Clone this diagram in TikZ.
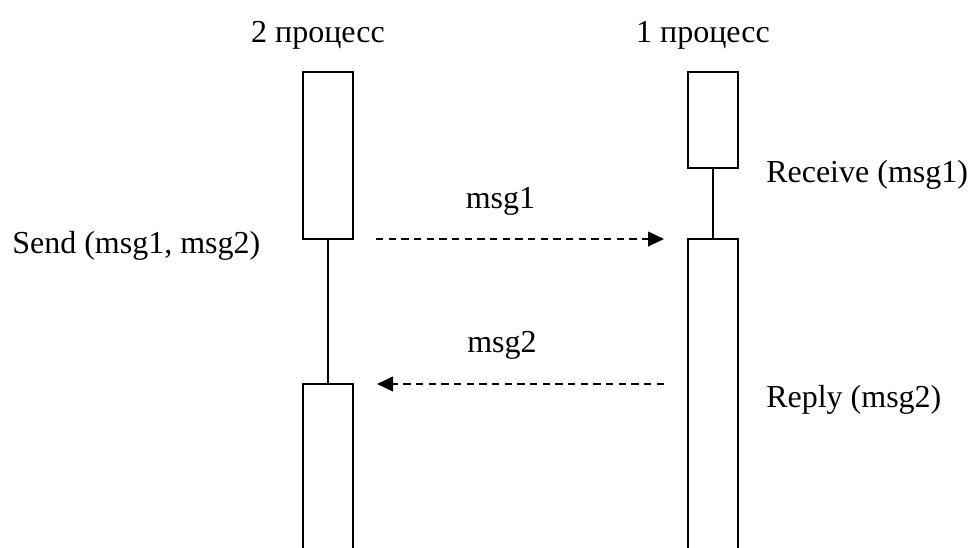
\documentclass[tikz,border=0pt]{standalone}
\usepackage{fontspec}
\setmainfont{Liberation Serif}
\usetikzlibrary{arrows.meta}
\begin{document}
\begin{tikzpicture}[x=0.75pt,y=-0.75pt,
  lane/.style={draw,line width=1.5pt,minimum width=37.5pt,inner sep=0pt,outer sep=0pt},
  lifeline/.style={line width=1.5pt},
  msgarrow/.style={line width=1.5pt,dash pattern=on 5.5pt off 4pt,-{Triangle[length=12pt,width=11pt]}},
  lbl/.style={inner sep=0pt,font=\fontsize{24pt}{28pt}\selectfont}]
\useasboundingbox (0,0) rectangle (970,547);
% activation boxes
\node[lane,minimum height=125.25pt] (A1) at (328,155.5) {};
\node[lane,minimum height=139.5pt] (A2) at (328,477) {};
\node[lane,minimum height=72pt] (B1) at (713,120) {};
\node[lane,minimum height=248.25pt] (B2) at (713,404.5) {};
% lifelines
\draw[lifeline] (A1.south) -- (A2.north);
\draw[lifeline] (B1.south) -- (B2.north);
% messages
\draw[msgarrow,shorten <=17.25pt,shorten >=18pt] (A1.south east) -- (B2.north west);
\draw[msgarrow,shorten <=18pt,shorten >=18pt] (B2.west |- A2.north) -- (A2.north east);
% labels
\node[lbl,anchor=base] (t2) at (318,42) {2 процесс};
\node[lbl,anchor=base] (t1) at (703,42) {1 процесс};
\node[lbl,anchor=base] (m1) at (500.5,208) {msg1};
\node[lbl,anchor=base] (m2) at (502,352) {msg2};
\node[lbl,anchor=base west] (snd) at (12,253) {Send (msg1, msg2)};
\node[lbl,anchor=base west] (rcv) at (766,182) {Receive (msg1)};
\node[lbl,anchor=base west] (rpl) at (766,407) {Reply (msg2)};
\end{tikzpicture}
\end{document}
